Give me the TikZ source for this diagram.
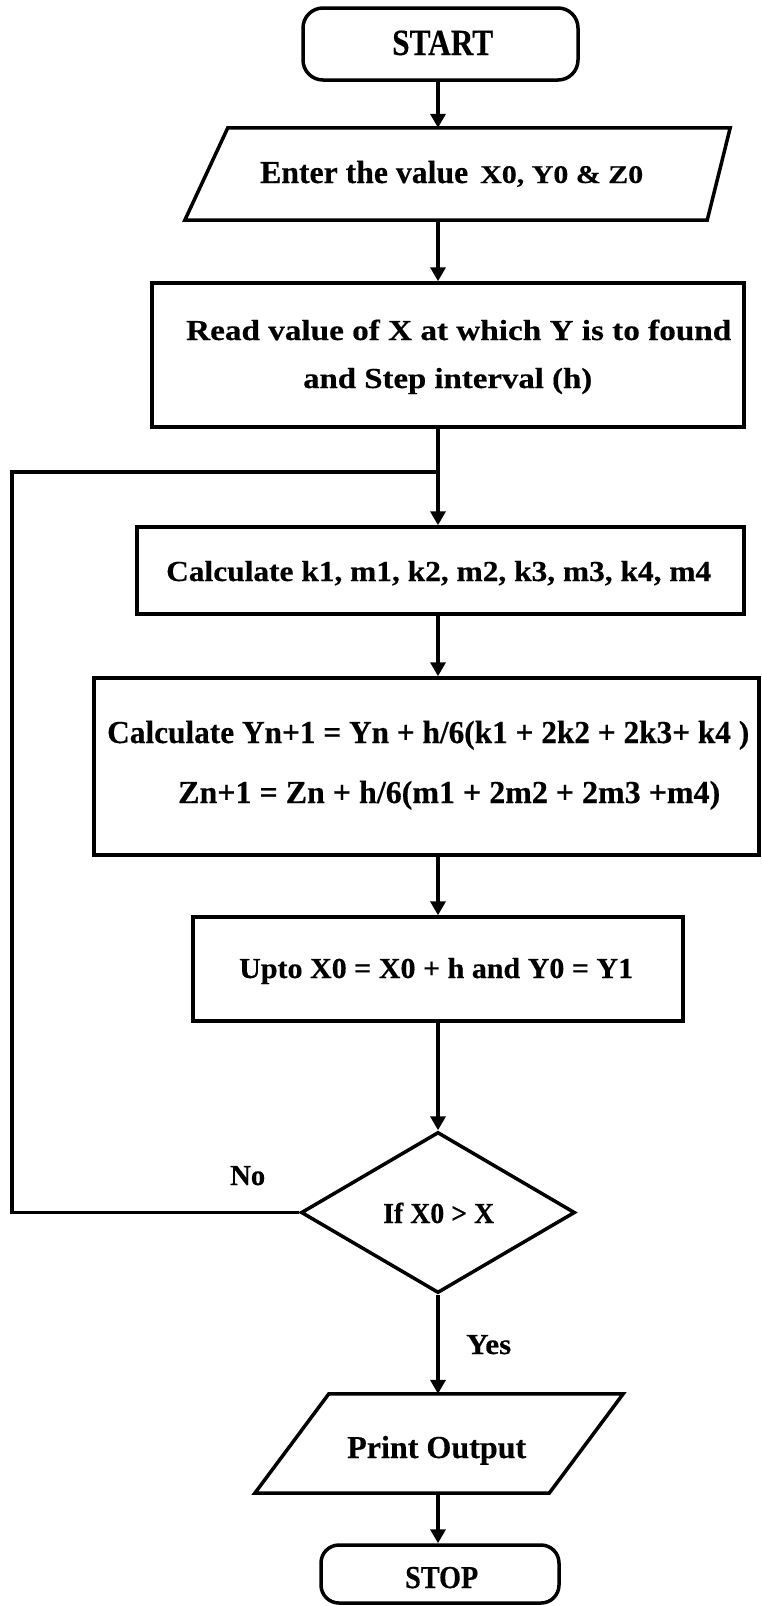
\documentclass[tikz,border=0pt]{standalone}
\usepackage{fontspec}
\setmainfont{Liberation Serif}[BoldFeatures={FakeBold=0.4}]
\usetikzlibrary{arrows.meta,shapes.geometric}
% text set at a given size (#1, pt) and stretched to a given width (#2, pt)
\newcommand\tw[3]{\resizebox{#2pt}{\height}{\fontsize{#1pt}{#1pt}\selectfont #3}}

\begin{document}
\begin{tikzpicture}[x=1pt,y=-1pt,
  outline/.style={draw=black, line width=3.5pt, line join=miter},
  procbox/.style={rectangle, outline, inner sep=0pt},
  slot/.style={rectangle, inner sep=0pt},
  term/.style={rectangle, rounded corners=20pt, outline, inner sep=0pt},
  decision/.style={diamond, outline, inner sep=0pt},
  lbl/.style={anchor=base west, inner sep=0pt, font=\bfseries},
  flow/.style={line width=4.5pt, -{Triangle[length=14pt,width=15pt]}},
  link/.style={line width=3.5pt, line join=miter}
]
\fill[white] (0,0) rectangle (761,1606);
\useasboundingbox (0,0) rectangle (761,1606);

% main vertical axis of the flow
\coordinate (axis) at (438,0);

% shapes
\node[term, minimum width=275pt, minimum height=72pt] (start) at (440.5,44) {};
\node[slot, minimum width=545pt, minimum height=92pt] (enter) at (457.5,174) {};
\draw[outline] ([xshift=43pt]enter.north west) -- (enter.north east)
  -- ([xshift=-23pt]enter.south east) -- (enter.south west) -- cycle;
\node[procbox, minimum width=592pt, minimum height=144pt] (read) at (448,355) {};
\node[procbox, minimum width=607pt, minimum height=87pt] (calck) at (440.5,570.5) {};
\node[procbox, minimum width=665pt, minimum height=177pt] (calcy) at (426.5,766.5) {};
\node[procbox, minimum width=490pt, minimum height=104pt] (upto) at (438,969) {};
\node[decision, minimum width=274pt, minimum height=161pt] (decide) at (438,1212.5) {};
\node[slot, minimum width=368pt, minimum height=99pt] (print) at (439,1443.5) {};
\draw[outline] ([xshift=74pt]print.north west) -- (print.north east)
  -- ([xshift=-74pt]print.south east) -- (print.south west) -- cycle;
\node[term, rounded corners=18pt, minimum width=238pt, minimum height=58pt] (stop) at (440,1574) {};

% labels
\node[lbl] (tStart) at (392,55) {\tw{37}{101}{START}};
\node[lbl] (tEnter) at (260,183) {\tw{32}{208}{Enter the value}\hspace{12pt}\tw{25.5}{163}{X0, Y0 \& Z0}};
\node[lbl] (tRead1) at (186,340) {\tw{29}{545}{Read value of X at which Y is to found}};
\node[lbl] (tRead2) at (303,388) {\tw{29}{289}{and Step interval (h)}};
\node[lbl] (tCalcK) at (166,581) {\tw{29}{545}{Calculate k1, m1, k2, m2, k3, m3, k4, m4}};
\node[lbl] (tCalcY) at (107,743) {\tw{32}{642}{Calculate Yn+1 = Yn + h/6(k1 + 2k2 + 2k3+ k4 )}};
\node[lbl] (tCalcZ) at (178,803) {\tw{32}{542}{Zn+1 = Zn + h/6(m1 + 2m2 + 2m3 +m4)}};
\node[lbl] (tUpto) at (239,978) {\tw{29}{394}{Upto X0 = X0 + h and Y0 = Y1}};
\node[lbl] (tIf) at (383,1223) {\tw{29}{111}{If X0 > X}};
\node[lbl] (tNo) at (230,1185) {\tw{29}{35}{No}};
\node[lbl] (tYes) at (466,1354) {\tw{29}{45}{Yes}};
\node[lbl] (tPrint) at (347,1458) {\tw{32}{179}{Print Output}};
\node[lbl] (tStop) at (405,1588) {\tw{32}{73}{STOP}};

% connectors
\draw[flow] (start.south -| axis) -- (enter.north -| axis);
\draw[flow] (enter.south -| axis) -- (read.north -| axis);
\draw[flow] (read.south -| axis) -- (calck.north -| axis);
\draw[flow] (calck.south -| axis) -- (calcy.north -| axis);
\draw[flow] (calcy.south -| axis) -- (upto.north -| axis);
\draw[flow] (upto.south -| axis) -- (decide.north -| axis);
\draw[flow] (decide.south -| axis) -- (print.north -| axis);
\draw[flow] (print.south -| axis) -- (stop.north -| axis);

% "No" branch loops back above the calculation step
\coordinate (loopL) at (12,472);
\coordinate (join) at (438,472);
\draw[link] (decide.west) -- (decide.west -| loopL) -- (loopL) -- (join);
\end{tikzpicture}
\end{document}
